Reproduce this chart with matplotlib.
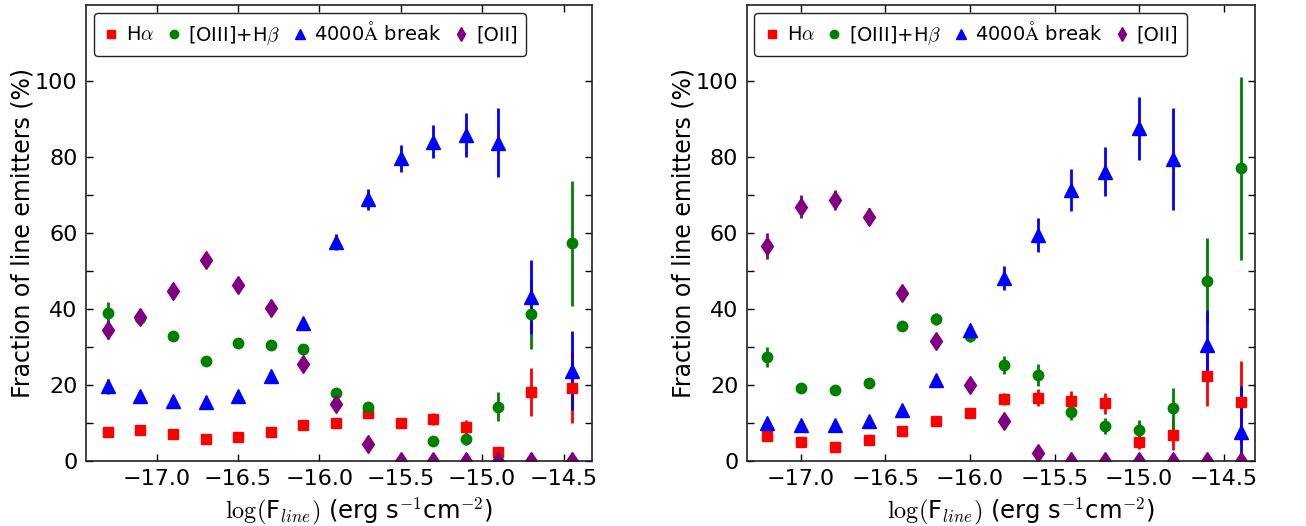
import numpy as np
import matplotlib
matplotlib.use("Agg")
import matplotlib.pyplot as plt
from matplotlib.lines import Line2D

plt.rcParams['mathtext.fontset'] = 'cm'
plt.rcParams['font.family'] = ['DejaVu Sans']

nan = np.nan

# ---------------- data ----------------
x_left = [-17.3, -17.1, -16.9, -16.7, -16.5, -16.3, -16.1, -15.9, -15.7,
          -15.5, -15.3, -15.1, -14.9, -14.7, -14.45]
ha_left = [7.7, 8.1, 7.1, 5.9, 6.3, 7.6, 9.4, 10.1, 12.7, 10.1, 11.0, 8.9, 2.3, 18.2, 19.3]
ha_left_err = [0.8, 0.8, 0.7, 0.7, 0.7, 0.8, 1.0, 1.0, 1.3, 1.2, 1.6, 1.8, 1.5, 6.3, 9.3]
oiii_left = [39.0, 37.5, 32.9, 26.4, 31.0, 30.5, 29.4, 18.0, 14.1, nan, 5.3, 5.7, 14.3, 38.7, 57.3]
oiii_left_err = [2.8, 1.5, 1.2, 1.2, 1.2, 1.2, 1.2, 1.2, 1.2, nan, 1.2, 1.4, 3.8, 9.2, 16.4]
d4000_left = [19.6, 17.2, 15.9, 15.6, 17.1, 22.4, 36.2, 57.7, 68.9, 79.6, 84.0, 85.8, 83.8, 43.2, 23.8]
d4000_left_err = [2.0, 1.0, 1.0, 1.0, 1.0, 1.0, 1.2, 2.1, 2.8, 3.6, 4.4, 5.8, 9.2, 9.8, 10.5]
oii_left = [34.5, 38.0, 44.8, 52.9, 46.3, 40.2, 25.5, 15.0, 4.6, 0, 0, 0, 0, 0, 0]
oii_left_err = [2.5, 1.5, 1.5, 1.5, 1.5, 1.5, 1.5, 1.5, 1.5, 0, 0, 0, 0, 0, 0]

x_right = [-17.2, -17.0, -16.8, -16.6, -16.4, -16.2, -16.0, -15.8, -15.6,
           -15.4, -15.2, -15.0, -14.8, -14.6, -14.4]
ha_right = [6.7, 5.1, 3.8, 5.5, 7.9, 10.4, 12.7, 16.3, 16.7, 15.9, 15.2, 5.0, 6.8, 22.4, 15.4]
ha_right_err = [0.8, 0.8, 0.7, 0.8, 0.9, 1.0, 1.2, 1.5, 2.3, 2.6, 2.8, 1.8, 3.9, 7.8, 10.9]
oiii_right = [27.4, 19.1, 18.7, 20.4, 35.5, 37.4, 32.9, 25.3, 22.6, 12.8, 9.2, 8.2, 13.9, 47.4, 77.0]
oiii_right_err = [2.7, 1.3, 1.0, 1.0, 1.2, 1.5, 1.5, 2.3, 2.8, 2.0, 2.2, 2.5, 5.4, 11.2, 24.1]
d4000_right = [9.9, 9.5, 9.5, 10.5, 13.4, 21.3, 34.5, 48.1, 59.5, 71.3, 76.1, 87.5, 79.4, 30.5, 7.7]
d4000_right_err = [0.8, 0.8, 0.8, 0.8, 1.0, 1.2, 1.5, 3.1, 4.4, 5.5, 6.5, 8.3, 13.4, 9.2, 12.0]
oii_right = [56.6, 66.9, 68.7, 64.3, 44.1, 31.7, 20.0, 10.6, 2.0, 0, 0, 0, 0, 0, 0]
oii_right_err = [3.5, 3.0, 2.6, 2.2, 1.5, 1.5, 1.5, 1.2, 1.0, 0, 0, 0, 0, 0, 0]

labels = [r'H$\alpha$', r'[OIII]+H$\beta$', r'4000$\mathrm{\AA}$ break', '[OII]']
colors = ['#ff0000', '#008000', '#0000ff', '#800080']
markers = ['s', 'o', '^', 'd']
msizes = [7.5, 7.5, 9.5, 9.5]

xticks = [-17.0, -16.5, -16.0, -15.5, -15.0, -14.5]
yticks = [0, 10, 20, 30, 40, 50, 60, 70, 80, 100]
yticklabels = ['0', '', '20', '', '40', '', '60', '', '80', '100']

fig = plt.figure(figsize=(13.06, 5.26), dpi=100)
ax1 = fig.add_axes([0.0658, 0.1236, 0.3875, 0.867])
ax2 = fig.add_axes([0.5717, 0.1236, 0.3893, 0.867])

panels = [
    (ax1, x_left, [(ha_left, ha_left_err), (oiii_left, oiii_left_err),
                   (d4000_left, d4000_left_err), (oii_left, oii_left_err)], (-17.435, -14.325)),
    (ax2, x_right, [(ha_right, ha_right_err), (oiii_right, oiii_right_err),
                    (d4000_right, d4000_right_err), (oii_right, oii_right_err)], (-17.321, -14.314)),
]

for ax, xs, series, xlim in panels:
    handles = []
    for (vals, errs), lab, c, m, ms in zip(series, labels, colors, markers, msizes):
        ax.errorbar(xs, vals, yerr=errs, fmt=m, color=c, mec=c, mfc=c, ms=ms,
                    elinewidth=2.0, capsize=0)
        handles.append(Line2D([], [], ls='none', marker=m, color=c, mec=c, mfc=c,
                              ms=ms * 0.8, label=lab))
    ax.set_xlim(*xlim)
    ax.set_ylim(0, 120)
    ax.set_xticks(xticks)
    ax.set_yticks(yticks)
    ax.set_yticklabels(yticklabels)
    ax.tick_params(direction='in', top=True, right=True, length=5, width=1,
                   labelsize=16, pad=6)
    for s in ax.spines.values():
        s.set_color('#222222')
        s.set_linewidth(1.2)
    ax.set_xlabel(r'$\log($F$_{line})$ (erg s$^{-1}$cm$^{-2}$)', fontsize=17.5, labelpad=2)
    ax.xaxis.set_label_coords(0.54, -0.075)
    ax.set_ylabel('Fraction of line emitters (%)', fontsize=17, labelpad=0)
    leg = ax.legend(handles=handles, loc='upper left', ncol=4, numpoints=1, fontsize=14,
                    handletextpad=0.3, columnspacing=0.55, borderpad=0.45,
                    handlelength=0.9, fancybox=True,
                    borderaxespad=0.4, framealpha=1)
    leg.get_frame().set_edgecolor('#222222')
    leg.get_frame().set_linewidth(1.0)

fig.savefig('out.png', dpi=100)
